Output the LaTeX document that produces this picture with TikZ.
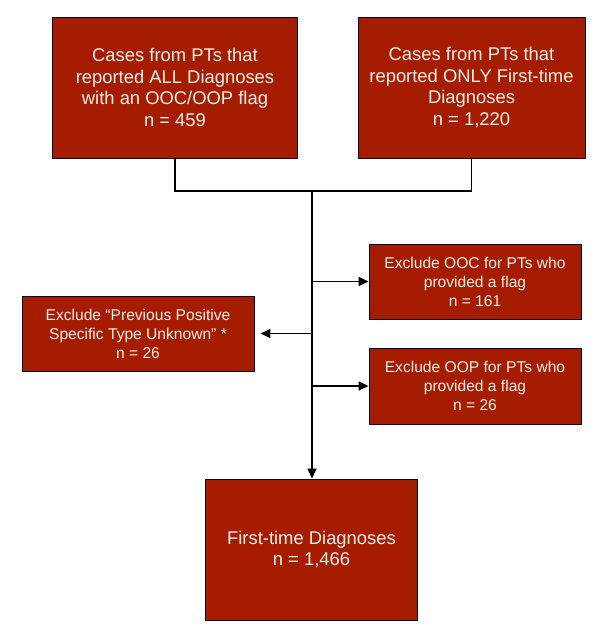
\documentclass[tikz,border=0pt]{standalone}
\usepackage{fontspec}
\setmainfont{Liberation Sans}
\usetikzlibrary{arrows.meta}
\definecolor{boxred}{RGB}{166,28,0}
\definecolor{boxtext}{RGB}{250,240,234}
\begin{document}
\begin{tikzpicture}[x=1pt,y=-1pt,
  bigbox/.style={draw=black,line width=0.9pt,fill=boxred,text=boxtext,align=center,inner sep=2pt,
    font=\fontsize{18.4}{21.8}\selectfont},
  smallbox/.style={draw=black,line width=0.9pt,fill=boxred,text=boxtext,align=center,inner sep=2pt,
    font=\fontsize{15.6}{19}\selectfont},
  conn/.style={line width=1.5pt,black},
  arr/.style={conn,-{Triangle[length=10pt,width=9pt]}}]
\useasboundingbox (0,0) rectangle (613,643);
\node[bigbox,minimum width=245pt,minimum height=141pt] (A) at (175,87.5)
  {Cases from PTs that\\reported ALL Diagnoses\\with an OOC/OOP flag\\n = 459};
\node[bigbox,minimum width=227pt,minimum height=141pt] (B) at (471.5,87.5)
  {Cases from PTs that\\reported ONLY First-time\\Diagnoses\\n = 1,220};
\node[smallbox,minimum width=212pt,minimum height=75pt] (C) at (475,281.5)
  {Exclude OOC for PTs who\\provided a flag\\n = 161};
\node[smallbox,minimum width=212pt,minimum height=76pt] (D) at (475,386)
  {Exclude OOP for PTs who\\provided a flag\\n = 26};
\node[smallbox,minimum width=232pt,minimum height=75pt] (E) at (138,333.5)
  {Exclude “Previous Positive\\Specific Type Unknown” *\\n = 26};
\node[bigbox,minimum width=212pt,minimum height=141pt] (F) at (311.5,549.5)
  {First-time Diagnoses\\n = 1,466};
\coordinate (J) at (312,191);
\draw[conn] (A.south) |- (J);
\draw[conn] (B.south) |- (J);
\draw[arr] (J) -- (F.north -| J);
\draw[arr] (C.west -| J) -- (C.west);
\draw[arr] (D.west -| J) -- (D.west);
\draw[arr,shorten >=6pt] (E.east -| J) -- (E.east);
\end{tikzpicture}
\end{document}
